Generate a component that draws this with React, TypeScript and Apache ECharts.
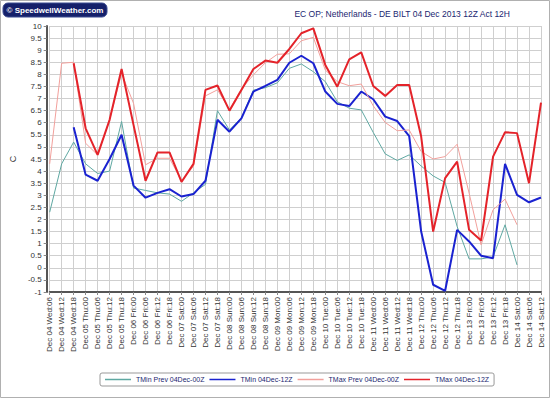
import React, { useEffect, useRef } from "react";
import * as echarts from "echarts";

const categories: string[] = [
  "Dec 04 Wed:06", "Dec 04 Wed:12", "Dec 04 Wed:18",
  "Dec 05 Thu:00", "Dec 05 Thu:06", "Dec 05 Thu:12", "Dec 05 Thu:18",
  "Dec 06 Fri:00", "Dec 06 Fri:06", "Dec 06 Fri:12", "Dec 06 Fri:18",
  "Dec 07 Sat:00", "Dec 07 Sat:06", "Dec 07 Sat:12", "Dec 07 Sat:18",
  "Dec 08 Sun:00", "Dec 08 Sun:06", "Dec 08 Sun:12", "Dec 08 Sun:18",
  "Dec 09 Mon:00", "Dec 09 Mon:06", "Dec 09 Mon:12", "Dec 09 Mon:18",
  "Dec 10 Tue:00", "Dec 10 Tue:06", "Dec 10 Tue:12", "Dec 10 Tue:18",
  "Dec 11 Wed:00", "Dec 11 Wed:06", "Dec 11 Wed:12", "Dec 11 Wed:18",
  "Dec 12 Thu:00", "Dec 12 Thu:06", "Dec 12 Thu:12", "Dec 12 Thu:18",
  "Dec 13 Fri:00", "Dec 13 Fri:06", "Dec 13 Fri:12", "Dec 13 Fri:18",
  "Dec 14 Sat:00", "Dec 14 Sat:06", "Dec 14 Sat:12",
];

const tminPrev: (number | null)[] = [
  2.3, 4.3, 5.2, 4.3, 3.9, 4.0, 6.05, 3.3, 3.2, 3.1, 3.05, 2.75, 3.1, 3.45,
  6.5, 5.7, 6.2, 7.35, 7.45, 7.65, 8.25, 8.43, 8.11, 7.7, 6.87, 6.6, 6.53,
  5.6, 4.71, 4.44, 4.67, 4.21, 3.8, 3.53, 1.71, 0.37, 0.37, 0.45, 1.78, 0.12,
  null, null,
];

const tmin: (number | null)[] = [
  null, null, 5.81, 3.85, 3.6, 4.5, 5.5, 3.4, 2.9, 3.1, 3.25, 2.95, 3.05, 3.6,
  6.12, 5.63, 6.18, 7.29, 7.52, 7.77, 8.48, 8.77, 8.46, 7.29, 6.78, 6.69, 7.29,
  6.97, 6.25, 6.07, 5.45, 1.5, -0.7, -0.95, 1.57, 1.09, 0.5, 0.4, 4.3, 3.02,
  2.71, 2.91,
];

const tmaxPrev: (number | null)[] = [
  4.3, 8.46, 8.5, 5.15, 4.67, 6.12, 8.04, 6.8, 4.26, 4.53, 4.53, 3.6, 4.2, 7.11,
  7.36, 6.55, 7.4, 7.98, 8.48, 8.83, 8.85, 9.39, 9.53, 8.18, 7.7, 7.53, 7.6,
  6.7, 6.01, 5.67, 5.7, 4.81, 4.5, 4.6, 5.11, 3.09, 0.95, 2.4, 2.84, 1.78,
  null, null,
];

const tmax: (number | null)[] = [
  null, null, 8.46, 5.77, 4.67, 6.12, 8.22, 5.9, 3.6, 4.77, 4.77, 3.55, 4.3,
  7.36, 7.54, 6.5, 7.35, 8.22, 8.57, 8.48, 9.05, 9.7, 9.9, 8.39, 7.49, 8.62,
  8.91, 7.52, 7.11, 7.56, 7.56, 5.43, 1.5, 3.71, 4.39, 1.57, 1.13, 4.6, 5.61,
  5.57, 3.5, 6.83,
];

const seriesNames = [
  "TMin Prev 04Dec-00Z",
  "TMin 04Dec-12Z",
  "TMax Prev 04Dec-00Z",
  "TMax 04Dec-12Z",
];

const titleText = "EC OP; Netherlands - DE BILT 04 Dec 2013 12Z Act 12H";
const logoText = "© SpeedwellWeather.com";

export default function App() {
  const ref = useRef<HTMLDivElement>(null);
  useEffect(() => {
    document.body.style.margin = "0";
    const chart = echarts.init(ref.current!, undefined, { renderer: "svg" });
    const font = "Liberation Sans, Arial, sans-serif";
    const mk = (name: string, data: (number | null)[], color: string, width: number) => ({
      name,
      type: "line",
      data,
      symbol: "none",
      connectNulls: false,
      lineStyle: { color, width },
      itemStyle: { color },
    });
    chart.setOption({
      animation: false,
      backgroundColor: "#ffffff",
      grid: { left: 41, right: 9, top: 26, bottom: 106 },
      graphic: [
        {
          type: "rect",
          shape: { x: 0.5, y: 0.5, width: 549, height: 397 },
          style: { fill: "none", stroke: "#b0b0b0", lineWidth: 1 },
          silent: true,
        },
        {
          type: "rect",
          shape: { x: 3, y: 3, width: 104, height: 14, r: 5 },
          style: { fill: "#15206a", stroke: "#3a4a90", lineWidth: 1 },
        },
        {
          type: "text",
          x: 55,
          y: 10,
          style: {
            text: logoText,
            fill: "#ffffff",
            font: "bold 8px " + font,
            textAlign: "center",
            textVerticalAlign: "middle",
          },
        },
        {
          type: "text",
          x: 510,
          y: 14,
          style: {
            text: titleText,
            fill: "#1a2670",
            font: "8.5px " + font,
            textAlign: "right",
            textVerticalAlign: "middle",
          },
        },
      ],
      legend: {
        bottom: 12,
        left: 100,
        data: seriesNames.map((n) => ({ name: n, icon: "rect" })),
        borderColor: "#999",
        borderWidth: 1,
        borderRadius: 2,
        padding: [3, 5],
        itemGap: 5,
        itemWidth: 26,
        itemHeight: 1.5,
        textStyle: { fontSize: 7, fontFamily: font, color: "#1a2670" },
      },
      xAxis: {
        type: "category",
        data: categories,
        boundaryGap: false,
        axisLine: { onZero: false, lineStyle: { color: "#555", width: 2 } },
        axisTick: { show: true, interval: 0, length: 3, lineStyle: { color: "#888" } },
        axisLabel: {
          interval: 0,
          rotate: 90,
          fontSize: 8,
          fontFamily: font,
          color: "#333",
          margin: 5,
        },
        splitLine: { show: true, interval: 0, lineStyle: { color: "#cfcfcf", width: 1 } },
      },
      yAxis: {
        type: "value",
        min: -1,
        max: 10,
        interval: 0.5,
        offset: 3,
        name: "C",
        nameLocation: "middle",
        nameGap: 24,
        nameRotate: 90,
        nameTextStyle: { fontSize: 9, fontFamily: font, color: "#333" },
        axisLine: { show: true, lineStyle: { color: "#555", width: 2 } },
        axisTick: { show: true, length: 3, lineStyle: { color: "#888" } },
        axisLabel: { fontSize: 8, fontFamily: font, color: "#333", margin: 5 },
        splitLine: { show: true, lineStyle: { color: "#cfcfcf", width: 1 } },
      },
      series: [
        mk(seriesNames[0], tminPrev, "#5fa8a2", 1),
        mk(seriesNames[1], tmin, "#1a22d0", 2),
        mk(seriesNames[2], tmaxPrev, "#f2a09c", 1),
        mk(seriesNames[3], tmax, "#e4232a", 2),
      ],
    });
    return () => chart.dispose();
  }, []);
  return <div ref={ref} style={{ width: 550, height: 398 }} />;
}
